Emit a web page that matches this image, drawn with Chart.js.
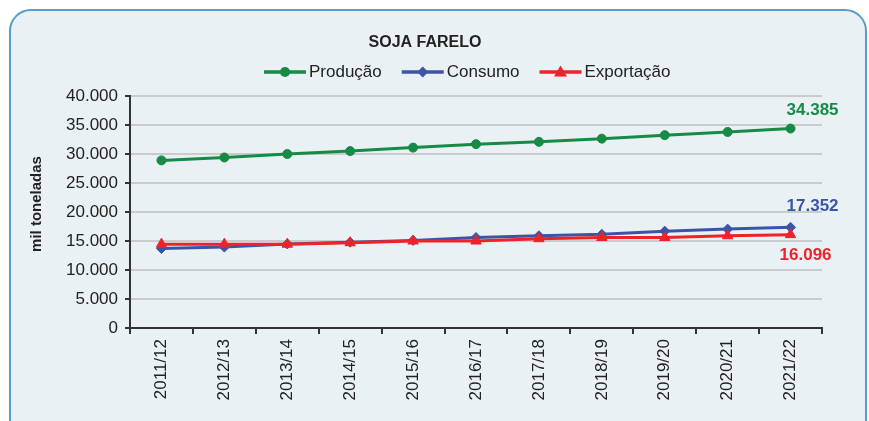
<!DOCTYPE html>
<html>
<head>
<meta charset="utf-8">
<script src="https://cdn.jsdelivr.net/npm/chart.js@4/dist/chart.umd.min.js"></script>
<style>
    html, body { margin: 0; padding: 0; background: #fff; overflow: hidden; }
    #moldura {
        position: absolute; left: 9px; top: 9px; width: 854px; height: 440px;
        border: 2px solid #5b9cc6; border-radius: 22px; background: #eaf1f5;
    }
    #grafico { position: absolute; left: 0; top: 0; }
</style>
</head>
<body>
<div id="moldura"></div>
<canvas id="grafico" width="869" height="421"></canvas>
<script>
// Dados
const safras = ['2011/12', '2012/13', '2013/14', '2014/15', '2015/16', '2016/17', '2017/18', '2018/19', '2019/20', '2020/21', '2021/22'];
const producao = [28900, 29400, 30000, 30500, 31100, 31700, 32100, 32650, 33250, 33800, 34385];
const consumo = [13700, 13950, 14500, 14800, 15100, 15600, 15900, 16150, 16700, 17050, 17352];
const exportacao = [14450, 14450, 14450, 14700, 15000, 15000, 15400, 15600, 15600, 15900, 16096];
const yTicks = [0, 5000, 10000, 15000, 20000, 25000, 30000, 35000, 40000];

const VERDE = '#178a45';
const AZUL = '#3b55a6';
const VERMELHO = '#ee2229';
const FONTE = "'Liberation Sans', Arial, sans-serif";

function formatarMil(v) {
    return String(v).replace(/\B(?=(\d{3})+(?!\d))/g, '.');
}

// --- marcadores (legenda) ---
function desenharMarcador(ctx, estilo, x, y, r, cor) {
    ctx.save();
    ctx.fillStyle = cor;
    ctx.beginPath();
    if (estilo === 'circle') {
        ctx.arc(x, y, r, 0, Math.PI * 2);
    } else if (estilo === 'rectRot') {
        ctx.moveTo(x, y - r); ctx.lineTo(x + r, y); ctx.lineTo(x, y + r); ctx.lineTo(x - r, y);
    } else {
        ctx.moveTo(x, y - r); ctx.lineTo(x + r, y + r * 0.7); ctx.lineTo(x - r, y + r * 0.7);
    }
    ctx.closePath();
    ctx.fill();
    ctx.restore();
}

// --- titulo, legenda e titulo do eixo ---
const tituloLegenda = {
    id: 'tituloLegenda',
    afterDraw(chart) {
        const ctx = chart.ctx;
        ctx.save();
        ctx.fillStyle = '#222';
        ctx.font = 'bold 16px ' + FONTE;
        ctx.textAlign = 'center';
        ctx.textBaseline = 'middle';
        ctx.fillText('SOJA FARELO', 425, 43);

        // titulo do eixo y
        ctx.save();
        ctx.translate(37, 204);
        ctx.rotate(-Math.PI / 2);
        ctx.font = 'bold 15px ' + FONTE;
        ctx.fillText('mil toneladas', 0, 0);
        ctx.restore();

        ctx.font = '17px ' + FONTE;
        ctx.textAlign = 'left';
        let x = 264;
        const y = 72;
        chart.data.datasets.forEach(ds => {
            ctx.strokeStyle = ds.borderColor;
            ctx.lineWidth = 3.5;
            ctx.beginPath();
            ctx.moveTo(x, y); ctx.lineTo(x + 42, y);
            ctx.stroke();
            desenharMarcador(ctx, ds.pointStyle, x + 21, y, ds.pointRadius + 0.5, ds.borderColor);
            ctx.fillStyle = '#222';
            ctx.fillText(ds.label, x + 45, y);
            x += 45 + ctx.measureText(ds.label).width + 20;
        });
        ctx.restore();
    }
};

// --- rotulos do ultimo ponto ---
const rotulosFinais = {
    id: 'rotulosFinais',
    afterDatasetsDraw(chart) {
        const ctx = chart.ctx;
        const deslocamentos = [[22, -18], [22, -21], [15, 21]];
        ctx.save();
        ctx.font = 'bold 17px ' + FONTE;
        ctx.textAlign = 'center';
        ctx.textBaseline = 'middle';
        chart.data.datasets.forEach((ds, i) => {
            const pts = chart.getDatasetMeta(i).data;
            const p = pts[pts.length - 1];
            const v = ds.data[ds.data.length - 1];
            ctx.fillStyle = ds.borderColor;
            ctx.fillText(formatarMil(v), p.x + deslocamentos[i][0], p.y + deslocamentos[i][1]);
        });
        ctx.restore();
    }
};

function serie(label, data, cor, estilo, raio, ordem) {
    return {
        label, data,
        borderColor: cor, backgroundColor: cor,
        pointBackgroundColor: cor, pointBorderColor: cor,
        pointStyle: estilo, pointRadius: raio, pointBorderWidth: 1,
        borderWidth: 3, tension: 0, order: ordem
    };
}

new Chart(document.getElementById('grafico'), {
    type: 'line',
    data: {
        labels: safras,
        datasets: [
            serie('Produção', producao, VERDE, 'circle', 4.5, 2),
            serie('Consumo', consumo, AZUL, 'rectRot', 5, 1),
            serie('Exportação', exportacao, VERMELHO, 'triangle', 6, 0)
        ]
    },
    options: {
        responsive: false,
        animation: false,
        layout: { padding: { left: 0, right: 47, top: 96, bottom: 0 } },
        plugins: { legend: { display: false }, title: { display: false }, tooltip: { enabled: false } },
        scales: {
            x: {
                offset: true,
                grid: { offset: true, drawOnChartArea: false, tickLength: 6, color: '#333', lineWidth: 2 },
                border: { color: '#333', width: 2 },
                ticks: { minRotation: 90, maxRotation: 90, padding: 5, color: '#222', font: { family: FONTE, size: 17 } },
                afterFit(scale) { scale.height = 93; }
            },
            y: {
                min: 0, max: 40000,
                afterBuildTicks(scale) { scale.ticks = yTicks.map(v => ({ value: v })); },
                grid: { color: '#c9cbcd', lineWidth: 2, tickLength: 5, tickColor: '#333' },
                border: { color: '#333', width: 2 },
                ticks: { padding: 7, color: '#222', font: { family: FONTE, size: 17 }, callback: v => formatarMil(v) },
                afterFit(scale) { scale.width = 130; }
            }
        }
    },
    plugins: [tituloLegenda, rotulosFinais]
});
</script>
</body>
</html>
